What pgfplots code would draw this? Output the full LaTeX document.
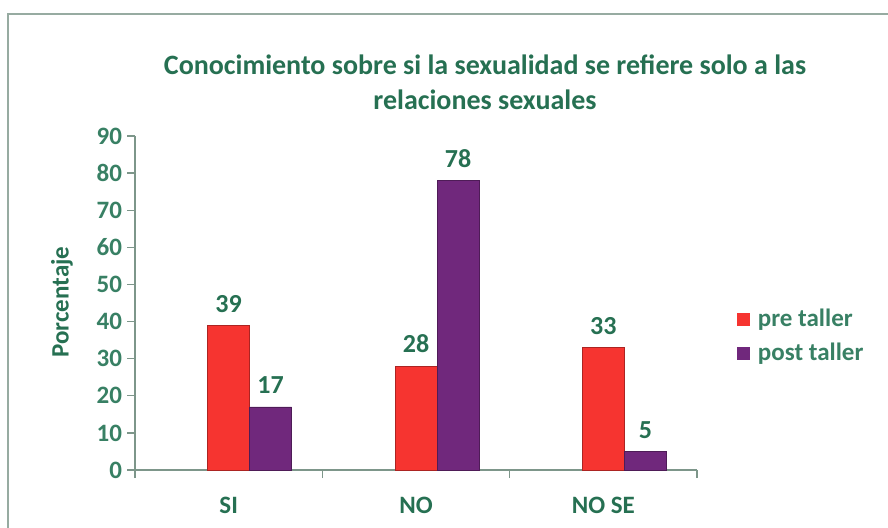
\documentclass[border=0pt]{standalone}
\usepackage{pgfplots}
\pgfplotsset{compat=1.18}
\usepackage{fontspec}
\setmainfont{Carlito}
\definecolor{ttl}{RGB}{38,112,82}
\definecolor{tck}{RGB}{56,128,100}
\definecolor{axln}{RGB}{125,150,138}
\definecolor{redbar}{RGB}{246,52,48}
\definecolor{purbar}{RGB}{112,40,124}

\begin{document}
\begin{tikzpicture}
% 1 px of the reference = 0.5pt
\useasboundingbox (0pt,0pt) rectangle (444pt,-264pt);
\draw[axln!80, line width=0.8pt] (4pt,-7pt) rectangle (450pt,-270pt);
\node[font=\bfseries\fontsize{14}{17.5}\selectfont, text=ttl, align=center] at (242.5pt,-41pt)
  {Conocimiento sobre si la sexualidad se refiere solo a las\\relaciones sexuales};
\node[rotate=90, font=\bfseries\fontsize{12.5}{14}\selectfont, text=ttl] at (31pt,-151pt) {Porcentaje};
\begin{axis}[at={(67.5pt,-235pt)}, anchor=south west,
  width=281pt, height=167pt, scale only axis,
  xmin=-0.5, xmax=2.5, ymin=0, ymax=90,
  ytick={0,10,...,90},
  xtick={0,1,2}, xticklabels={SI,NO,NO SE},
  minor xtick={-0.5,0.5,1.5,2.5},
  major x tick style={draw=none},
  axis x line*=bottom, axis y line*=left,
  axis line style={axln, line width=0.7pt},
  tick style={axln, line width=0.7pt},
  tick align=outside, major tick length=4pt, minor tick length=4pt,
  /pgf/number format/assume math mode=true,
  tick label style={font=\bfseries\fontsize{12.5}{14}\selectfont, text=tck},
  yticklabel style={xshift=1pt},
  xticklabel style={yshift=-6pt, text=ttl},
  nodes near coords,
  nodes near coords style={font=\bfseries\fontsize{13}{15}\selectfont, text=ttl, yshift=3pt},
  legend cell align=left,
  legend style={at={(1.06,0.40)}, anchor=west, draw=none, fill=none,
    font=\bfseries\fontsize{12.5}{14}\selectfont, text=tck, row sep=3pt,
    /tikz/every odd column/.append style={column sep=2pt}},
  clip=false]
\addplot[ybar, bar width=21pt, bar shift=0pt, fill=redbar, draw=redbar!70!black, forget plot]
  coordinates {(0,39) (1,28) (2,33)};
\addplot[ybar, bar width=21pt, bar shift=21pt, fill=purbar, draw=purbar!70!black, forget plot,
  nodes near coords style={xshift=21pt}]
  coordinates {(0,17) (1,78) (2,5)};
\addlegendimage{legend image code/.code={\fill[redbar] (0pt,-3pt) rectangle (6pt,3pt);}}
\addlegendentry{pre taller}
\addlegendimage{legend image code/.code={\fill[purbar] (0pt,-3pt) rectangle (6pt,3pt);}}
\addlegendentry{post taller}
\end{axis}
\end{tikzpicture}
\end{document}
